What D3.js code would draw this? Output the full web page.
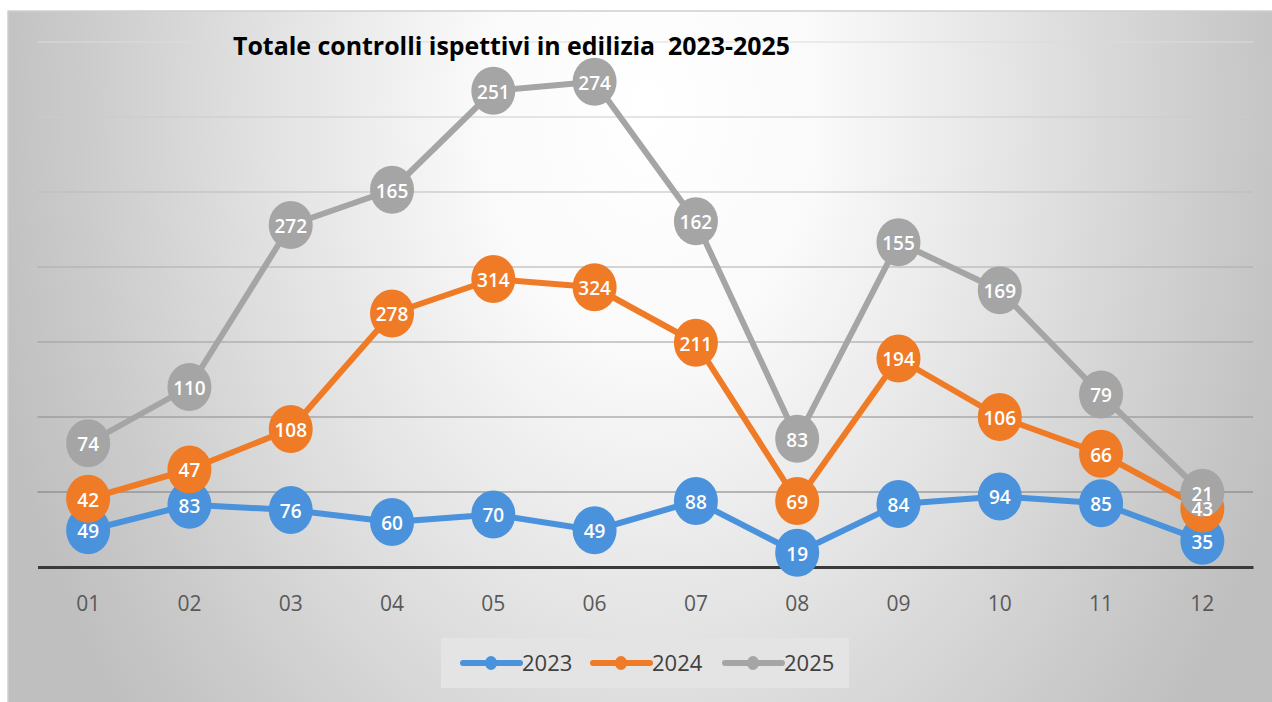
<!DOCTYPE html>
<html>
<head>
<meta charset="utf-8">
<script src="https://cdn.jsdelivr.net/npm/d3@7"></script>
<style>
  html, body { margin: 0; padding: 0; background: #ffffff; }
  svg { display: block; }
</style>
</head>
<body>
<svg id="chart" width="1272" height="702"></svg>
<script>
// Monthly inspection counts per year (stacked line chart)
const months = ["01", "02", "03", "04", "05", "06", "07", "08", "09", "10", "11", "12"];
const years = ["2023", "2024", "2025"];
const values2023 = [49, 83, 76, 60, 70, 49, 88, 19, 84, 94, 85, 35];
const values2024 = [42, 47, 108, 278, 314, 324, 211, 69, 194, 106, 66, 43];
const values2025 = [74, 110, 272, 165, 251, 274, 162, 83, 155, 169, 79, 21];
const gridTicks = [100, 200, 300, 400, 500, 600, 700];
const seriesColors = ["#4a92dc", "#f07b26", "#a5a5a5"];
const chartTitle = "Totale controlli ispettivi in edilizia  2023-2025";

const rows = months.map((m, i) => ({
  month: m, "2023": values2023[i], "2024": values2024[i], "2025": values2025[i]
}));
const stacked = d3.stack().keys(years)(rows);

const svg = d3.select("#chart");
const W = 1272, H = 702;

// background panel with soft radial shading
const defs = svg.append("defs");
const grad = defs.append("radialGradient")
  .attr("id", "bg")
  .attr("gradientUnits", "userSpaceOnUse")
  .attr("cx", 0).attr("cy", 0).attr("r", 1)
  .attr("gradientTransform", "translate(650,110) scale(680,960)");
[[0, "#ffffff"], [0.25, "#fafafa"], [0.55, "#e3e3e3"], [0.85, "#cacaca"], [1, "#bfbfbf"]]
  .forEach(([o, c]) => grad.append("stop").attr("offset", o).attr("stop-color", c));

svg.append("rect")
  .attr("x", 8).attr("y", 11).attr("width", W).attr("height", H)
  .attr("fill", "url(#bg)")
  .attr("stroke", "#cfcfcf").attr("stroke-width", 1.5);

const plotLeft = 37.5, plotRight = 1253;
const x = d3.scaleBand().domain(months).range([plotLeft, plotRight]);
const y = d3.scaleLinear().domain([0, 700]).range([567, 42]);
const cx = m => x(m) + x.bandwidth() / 2;

// horizontal gridlines
const gridShade = d3.scaleLinear().domain([100, 700]).range(["#7c7c7c", "#dcdcdc"]);
svg.append("g").selectAll("line").data(gridTicks).join("line")
  .attr("x1", plotLeft).attr("x2", plotRight)
  .attr("y1", d => y(d)).attr("y2", d => y(d))
  .attr("stroke", d => gridShade(d)).attr("stroke-width", 1.2);

// category axis
const xAxis = svg.append("g")
  .attr("transform", `translate(0,${y(0)})`)
  .call(d3.axisBottom(x).tickSize(0).tickPadding(29));
xAxis.select(".domain").attr("stroke", "#3a3a3a").attr("stroke-width", 3);
xAxis.selectAll("text")
  .attr("fill", "#595959")
  .style("font-family", "'Open Sans', sans-serif")
  .style("font-size", "21px");

// title
svg.append("text")
  .attr("x", 233).attr("y", 55)
  .attr("textLength", 557).attr("lengthAdjust", "spacingAndGlyphs")
  .style("white-space", "pre")
  .style("font-family", "'Open Sans', sans-serif")
  .style("font-weight", 700)
  .style("font-size", "25px")
  .attr("fill", "#000000")
  .text(chartTitle);

// series lines and markers
const line = d3.line().x(d => cx(d.data.month)).y(d => y(d[1]));
stacked.forEach((s, i) => {
  const g = svg.append("g");
  g.append("path").datum(s)
    .attr("d", line)
    .attr("fill", "none")
    .attr("stroke", seriesColors[i])
    .attr("stroke-width", 6)
    .attr("stroke-linejoin", "round");
  g.selectAll("ellipse").data(s).join("ellipse")
    .attr("cx", d => cx(d.data.month))
    .attr("cy", d => y(d[1]))
    .attr("rx", 22).attr("ry", 24)
    .attr("fill", seriesColors[i]);
});

// value labels on top of all markers
stacked.forEach((s, i) => {
  svg.append("g").selectAll("text").data(s).join("text")
    .attr("x", d => cx(d.data.month))
    .attr("y", d => y(d[1]))
    .attr("dy", "0.42em")
    .attr("text-anchor", "middle")
    .style("font-family", "'Open Sans', sans-serif")
    .style("font-weight", 600)
    .style("font-size", "19px")
    .attr("fill", "#ffffff")
    .text(d => d.data[years[i]]);
});

// legend
const legend = svg.append("g");
legend.append("rect")
  .attr("x", 441).attr("y", 638).attr("width", 408).attr("height", 50)
  .attr("fill", "#e4e4e4");
const legendX = [463, 593, 725];
years.forEach((yr, i) => {
  const lx = legendX[i], ly = 663;
  legend.append("line")
    .attr("x1", lx).attr("x2", lx + 57).attr("y1", ly).attr("y2", ly)
    .attr("stroke", seriesColors[i]).attr("stroke-width", 6)
    .attr("stroke-linecap", "round");
  legend.append("ellipse")
    .attr("cx", lx + 28).attr("cy", ly).attr("rx", 6).attr("ry", 7)
    .attr("fill", seriesColors[i]);
  legend.append("text")
    .attr("x", lx + 59).attr("y", ly).attr("dy", "0.37em")
    .style("font-family", "'Open Sans', sans-serif")
    .style("font-size", "22px")
    .attr("fill", "#404040")
    .text(yr);
});
</script>
</body>
</html>
